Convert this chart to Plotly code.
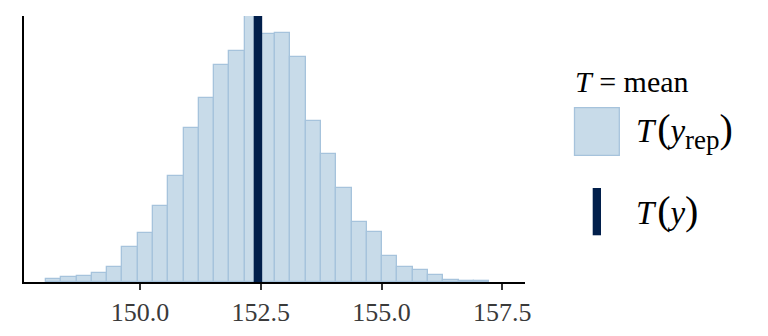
import plotly.graph_objects as go

# ---- data ----
bin_start = 148.053          # left edge of first bin
bin_width = 0.3163           # width of every bin
counts = [4, 7, 9, 14, 23, 53, 74, 115, 161, 234, 280, 330, 351, 404,
          376, 378, 342, 244, 194, 143, 91, 76, 40, 23, 18, 10, 3, 2, 2]
t_y = 152.44                 # observed statistic T(y)
tick_vals = [150.0, 152.5, 155.0, 157.5]
tick_text = ["150.0", "152.5", "155.0", "157.5"]
x_range = [147.597, 157.969]

centers = [bin_start + bin_width * (i + 0.5) for i in range(len(counts))]

FILL = "#c8dbe9"
EDGE = "#a6c3dc"
DARK = "#011f4b"
SERIF = "Liberation Serif, Times New Roman, Times, serif"

fig = go.Figure()
fig.add_trace(go.Bar(
    x=centers, y=counts, width=[bin_width] * len(counts),
    marker=dict(color=FILL, line=dict(color=EDGE, width=1.3)),
    showlegend=False, hoverinfo="x+y",
))

# observed statistic line
fig.add_shape(type="line", xref="x", yref="paper", x0=t_y, x1=t_y, y0=0, y1=1,
              line=dict(color=DARK, width=8.5), layer="above")

W, H = 768, 336
L, R, T, B = 24, 243, 16, 53.5
pw, ph = W - L - R, H - T - B

def px(xpix):
    return (xpix - L) / pw

def py(ypix):
    return (H - B - ypix) / ph

# legend drawn manually
fig.add_shape(type="rect", xref="paper", yref="paper",
              x0=px(574.5), x1=px(619.3), y0=py(155.7), y1=py(107.7),
              fillcolor=FILL, line=dict(color=EDGE, width=1.3))
fig.add_shape(type="rect", xref="paper", yref="paper",
              x0=px(592.7), x1=px(601), y0=py(235.7), y1=py(188.3),
              fillcolor=DARK, line=dict(width=0))

LP = '&#8202;<span style="font-size:40px">(</span>'
RP = '<span style="font-size:40px">)</span>'
SUB = '<sub><span style="font-size:27px">rep</span></sub>'

fig.add_annotation(xref="paper", yref="paper", x=px(573), y=py(82),
                   xanchor="left", yanchor="middle", showarrow=False,
                   text="<i>T</i> = mean",
                   font=dict(family=SERIF, size=30, color="#000000"))
fig.add_annotation(xref="paper", yref="paper", x=px(634), y=py(131),
                   xanchor="left", yanchor="middle", showarrow=False,
                   text="<i>T</i>" + LP + "<i>y</i>" + SUB + RP,
                   font=dict(family=SERIF, size=33, color="#000000"))
fig.add_annotation(xref="paper", yref="paper", x=px(634), y=py(211),
                   xanchor="left", yanchor="middle", showarrow=False,
                   text="<i>T</i>" + LP + "<i>y</i>" + RP,
                   font=dict(family=SERIF, size=33, color="#000000"))

fig.update_layout(
    width=W, height=H,
    margin=dict(l=L, r=R, t=T, b=B, autoexpand=False),
    plot_bgcolor="white", paper_bgcolor="white",
    bargap=0, showlegend=False,
    font=dict(family=SERIF),
)
fig.update_xaxes(
    range=x_range, tickvals=tick_vals, ticktext=tick_text,
    showgrid=False, zeroline=False, automargin=False,
    showline=True, linecolor="black", linewidth=2.2,
    ticks="outside", ticklen=6, tickwidth=1.5, tickcolor="#333333",
    tickfont=dict(family=SERIF, size=26, color="#3a3a3a"),
)
fig.update_yaxes(
    range=[0, max(counts)], showticklabels=False, showgrid=False, zeroline=False,
    automargin=False,
    showline=True, linecolor="black", linewidth=2.2, ticks="",
)

fig.write_html("out.html")
